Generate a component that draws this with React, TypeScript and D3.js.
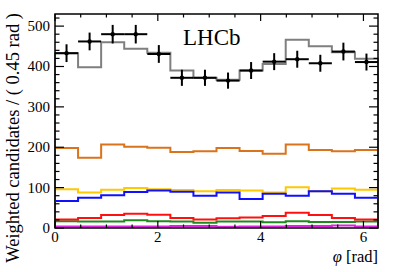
import * as d3 from 'd3'

const WIDTH = 399
const HEIGHT = 272
const MARGIN = { top: 14, right: 21, bottom: 44, left: 55 }

const X_MAX = 2 * Math.PI
const Y_MAX = 530

// weighted candidates per bin, 14 bins over [0, 2pi]
const DATA = [433, 462, 480, 480, 431, 372, 372, 365, 390, 412, 418, 408, 437, 411]
const DATA_ERR = [22, 22, 23, 23, 22, 20, 20, 20, 21, 21, 21, 21, 22, 21]
const TOTAL = [433, 398, 460, 444, 434, 390, 372, 367, 390, 406, 466, 450, 435, 419]
const ORANGE = [198, 174, 207, 201, 199, 188, 190, 198, 191, 184, 207, 193, 190, 193]
const YELLOW = [96, 88, 95, 99, 96, 94, 91, 94, 93, 88, 101, 91, 98, 95]
const BLUE = [67, 75, 81, 89, 93, 90, 80, 88, 72, 85, 80, 91, 85, 75]
const RED = [21, 25, 32, 35, 33, 25, 21, 24, 26, 30, 38, 32, 25, 21]
const GREEN = [17, 16, 16, 19, 17, 16, 13, 16, 16, 14, 17, 15, 15, 16]
const MAGENTA = [4, 4, 4, 4, 4, 5, 5, 3, 4, 4, 5, 5, 6, 4]

const COMPONENTS = [
  { values: MAGENTA, color: '#e020e0' },
  { values: GREEN, color: '#1e8a1e' },
  { values: RED, color: '#ff1010' },
  { values: YELLOW, color: '#ffc800' },
  { values: BLUE, color: '#1010ff' },
  { values: ORANGE, color: '#d9731c' },
  { values: TOTAL, color: '#7f7f7f' },
]

const X_MAJOR = [0, 2, 4, 6]
const Y_MAJOR = [0, 100, 200, 300, 400, 500]

const FONT = '"Liberation Serif", "DejaVu Serif", serif'

export default function App() {
  const nBins = DATA.length
  const binW = X_MAX / nBins
  const x = d3.scaleLinear().domain([0, X_MAX]).range([MARGIN.left, WIDTH - MARGIN.right])
  const y = d3.scaleLinear().domain([0, Y_MAX]).range([HEIGHT - MARGIN.bottom, MARGIN.top])
  const x0 = x(0)
  const x1 = x(X_MAX)
  const y0 = y(0)
  const y1 = y(Y_MAX)

  const histPath = (values: number[]) => {
    const p = d3.path()
    p.moveTo(x(0), y(0))
    values.forEach((v, i) => {
      p.lineTo(x(i * binW), y(v))
      p.lineTo(x((i + 1) * binW), y(v))
    })
    p.lineTo(x(X_MAX), y(0))
    return p.toString()
  }

  const xMinor = d3.range(0, 6.01, 0.5).filter((t) => !X_MAJOR.includes(t))
  const yMinor = d3.range(0, Y_MAX, 20).filter((t) => t % 100 !== 0)

  return (
    <svg
      width={WIDTH}
      height={HEIGHT}
      viewBox={`0 0 ${WIDTH} ${HEIGHT}`}
      style={{ position: 'absolute', left: 0, top: 0, background: '#fff' }}
    >
      <g fill="none" strokeWidth={2} strokeLinejoin="miter">
        {COMPONENTS.map((c) => (
          <path key={c.color} d={histPath(c.values)} stroke={c.color} />
        ))}
      </g>

      <g stroke="#000" strokeWidth={2}>
        {DATA.map((v, i) => {
          const cx = x((i + 0.5) * binW)
          return (
            <g key={i}>
              <line x1={x(i * binW)} x2={x((i + 1) * binW)} y1={y(v)} y2={y(v)} />
              <line x1={cx} x2={cx} y1={y(v - DATA_ERR[i])} y2={y(v + DATA_ERR[i])} />
              <circle cx={cx} cy={y(v)} r={2.2} fill="#000" stroke="none" />
            </g>
          )
        })}
      </g>

      <rect x={x0} y={y1} width={x1 - x0} height={y0 - y1} fill="none" stroke="#000" strokeWidth={1.5} />

      <g stroke="#000" strokeWidth={1.2}>
        {X_MAJOR.map((t) => (
          <g key={`xM${t}`}>
            <line x1={x(t)} x2={x(t)} y1={y0} y2={y0 - 7} />
            <line x1={x(t)} x2={x(t)} y1={y1} y2={y1 + 7} />
          </g>
        ))}
        {xMinor.map((t) => (
          <g key={`xm${t}`}>
            <line x1={x(t)} x2={x(t)} y1={y0} y2={y0 - 3.5} />
            <line x1={x(t)} x2={x(t)} y1={y1} y2={y1 + 3.5} />
          </g>
        ))}
        {Y_MAJOR.map((t) => (
          <g key={`yM${t}`}>
            <line x1={x0} x2={x0 + 9} y1={y(t)} y2={y(t)} />
            <line x1={x1} x2={x1 - 9} y1={y(t)} y2={y(t)} />
          </g>
        ))}
        {yMinor.map((t) => (
          <g key={`ym${t}`}>
            <line x1={x0} x2={x0 + 4.5} y1={y(t)} y2={y(t)} />
            <line x1={x1} x2={x1 - 4.5} y1={y(t)} y2={y(t)} />
          </g>
        ))}
      </g>

      <g fontFamily={FONT} fontSize={15} fill="#000">
        {X_MAJOR.map((t) => (
          <text key={`xl${t}`} x={x(t)} y={y0 + 14} textAnchor="middle">
            {t}
          </text>
        ))}
        {Y_MAJOR.map((t) => (
          <text key={`yl${t}`} x={x0 - 5} y={y(t) + 5} textAnchor="end">
            {t}
          </text>
        ))}
        <text x={x1} y={262} textAnchor="end" fontSize={16.5}>
          <tspan fontStyle="italic">φ</tspan> [rad]
        </text>
        <text
          transform={`translate(19, ${y1 - 1}) rotate(-90)`}
          textAnchor="end"
          fontSize={18.5}
        >
          Weighted candidates / ( 0.45 rad )
        </text>
        <text x={183} y={45} fontSize={23}>
          LHCb
        </text>
      </g>
    </svg>
  )
}
